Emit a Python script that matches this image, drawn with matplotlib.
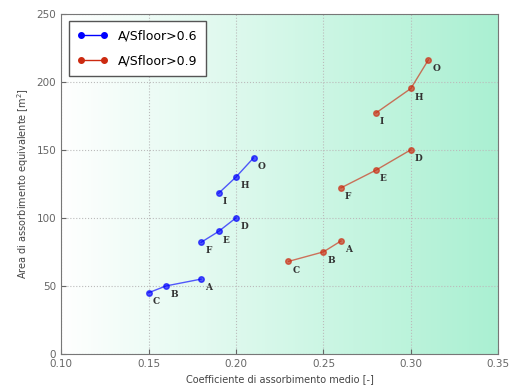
import numpy as np
import matplotlib.pyplot as plt
from matplotlib.colors import LinearSegmentedColormap

# Dati
etichette = ['C', 'B', 'A', 'F', 'E', 'D', 'I', 'H', 'O']

x_06 = [[0.15, 0.16, 0.18], [0.18, 0.19, 0.20], [0.19, 0.20, 0.21]]
y_06 = [[45, 50, 55], [82, 90, 100], [118, 130, 144]]

x_09 = [[0.23, 0.25, 0.26], [0.26, 0.28, 0.30], [0.28, 0.30, 0.31]]
y_09 = [[68, 75, 83], [122, 135, 150], [177, 195, 216]]

fig = plt.figure(figsize=(5.1, 3.89), dpi=100)
ax = fig.add_axes([0.12, 0.09, 0.857, 0.875])

# sfondo sfumato bianco -> verde
cmap = LinearSegmentedColormap.from_list('sf', ['#ffffff', '#aaf0d2'])
grad = np.linspace(0, 1, 256).reshape(1, -1)
ax.imshow(grad, cmap=cmap, aspect='auto', extent=[0.10, 0.35, 0, 250], zorder=0)

def serie(xs, ys, col, nome):
    k = 0
    for i in range(len(xs)):
        lab = nome if i == 0 else None
        ax.plot(xs[i], ys[i], '-o', color=col, alpha=0.65, lw=1, ms=4,
                mec=col, label=lab, zorder=3)
        for j in range(len(xs[i])):
            ax.annotate(etichette[k], (xs[i][j], ys[i][j]), xytext=(3, -8),
                        textcoords='offset points', fontsize=6.5,
                        family='DejaVu Serif', fontweight='bold', color='#333333')
            k += 1

serie(x_06, y_06, 'blue', 'A/Sfloor>0.6')
serie(x_09, y_09, '#cc2a10', 'A/Sfloor>0.9')

ax.set_xlim(0.10, 0.35)
ax.set_ylim(0, 250)
ax.set_xticks([0.10, 0.15, 0.20, 0.25, 0.30, 0.35])
ax.set_xticklabels(['0.10', '0.15', '0.20', '0.25', '0.30', '0.35'])
ax.set_yticks([0, 50, 100, 150, 200, 250])
ax.tick_params(labelsize=7.5, colors='#666666', direction='in')
ax.grid(True, ls=':', color='#bbbbbb', lw=0.8)
for s in ax.spines.values():
    s.set_color('#777777')

ax.set_xlabel('Coefficiente di assorbimento medio [-]', fontsize=7, color='#444444')
ax.set_ylabel('Area di assorbimento equivalente [m$^2$]', fontsize=7, color='#444444')

leg = ax.legend(loc='upper left', fontsize=9, numpoints=2, fancybox=False,
                framealpha=1, edgecolor='#555555', handlelength=2.4,
                labelspacing=0.9, borderpad=0.7, borderaxespad=0.6)
for h in leg.legend_handles:
    h.set_alpha(1)

fig.savefig('out.png', dpi=100)
